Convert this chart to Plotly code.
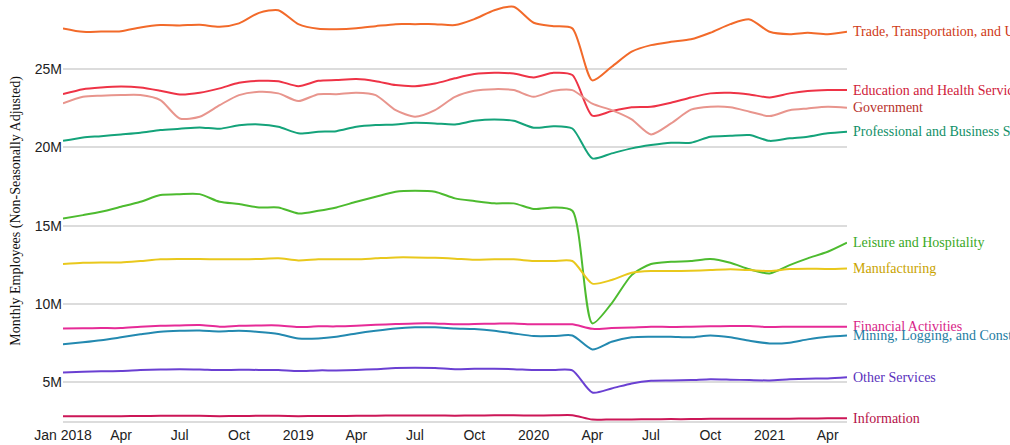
import plotly.graph_objects as go

months = ["2018-01-01","2018-02-01","2018-03-01","2018-04-01","2018-05-01","2018-06-01",
          "2018-07-01","2018-08-01","2018-09-01","2018-10-01","2018-11-01","2018-12-01",
          "2019-01-01","2019-02-01","2019-03-01","2019-04-01","2019-05-01","2019-06-01",
          "2019-07-01","2019-08-01","2019-09-01","2019-10-01","2019-11-01","2019-12-01",
          "2020-01-01","2020-02-01","2020-03-01","2020-04-01","2020-05-01","2020-06-01",
          "2020-07-01","2020-08-01","2020-09-01","2020-10-01","2020-11-01","2020-12-01",
          "2021-01-01","2021-02-01","2021-03-01","2021-04-01","2021-05-01"]

# values in millions of employees
trade = [27.59,27.37,27.39,27.41,27.65,27.80,27.78,27.82,27.69,27.91,28.58,28.75,27.86,27.56,27.54,27.60,27.73,27.86,27.86,27.86,27.80,28.18,28.75,28.97,27.95,27.73,27.59,24.27,25.14,26.10,26.52,26.73,26.89,27.31,27.86,28.16,27.37,27.22,27.31,27.22,27.37]
education = [23.39,23.71,23.82,23.88,23.82,23.61,23.37,23.48,23.76,24.12,24.24,24.22,23.90,24.24,24.29,24.35,24.22,23.97,23.90,24.07,24.40,24.67,24.75,24.71,24.46,24.75,24.61,22.02,22.31,22.55,22.58,22.84,23.18,23.44,23.48,23.37,23.18,23.44,23.59,23.65,23.65]
government = [22.80,23.22,23.29,23.33,23.33,23.01,21.84,21.95,22.69,23.33,23.54,23.44,22.95,23.39,23.39,23.48,23.33,22.37,21.95,22.37,23.22,23.61,23.71,23.65,23.22,23.61,23.65,22.78,22.37,21.78,20.82,21.52,22.40,22.58,22.55,22.27,21.99,22.37,22.48,22.58,22.53]
professional = [20.41,20.63,20.71,20.82,20.93,21.10,21.18,21.27,21.18,21.40,21.46,21.31,20.89,20.99,21.03,21.31,21.42,21.46,21.56,21.52,21.46,21.69,21.78,21.69,21.25,21.35,21.20,19.29,19.61,19.93,20.14,20.29,20.29,20.67,20.73,20.78,20.41,20.57,20.67,20.89,20.99]
leisure = [15.46,15.67,15.88,16.20,16.52,16.95,17.01,17.01,16.52,16.38,16.16,16.16,15.78,15.95,16.16,16.52,16.84,17.16,17.22,17.16,16.74,16.57,16.42,16.42,16.06,16.16,15.95,8.76,10.04,11.84,12.55,12.69,12.74,12.87,12.63,12.21,11.95,12.48,12.91,13.33,13.91]
manufacturing = [12.55,12.63,12.65,12.65,12.74,12.85,12.87,12.87,12.85,12.85,12.87,12.91,12.78,12.85,12.85,12.85,12.91,12.97,12.97,12.95,12.89,12.82,12.85,12.85,12.74,12.74,12.74,11.30,11.53,11.99,12.10,12.10,12.12,12.16,12.21,12.16,12.10,12.23,12.25,12.23,12.27]
financial = [8.44,8.45,8.46,8.46,8.55,8.61,8.63,8.65,8.55,8.61,8.63,8.63,8.53,8.57,8.57,8.61,8.67,8.72,8.76,8.76,8.70,8.72,8.74,8.76,8.70,8.70,8.70,8.41,8.46,8.50,8.55,8.53,8.55,8.57,8.59,8.59,8.53,8.55,8.55,8.55,8.55]
mining = [7.42,7.55,7.68,7.87,8.06,8.23,8.29,8.31,8.25,8.29,8.21,8.08,7.80,7.80,7.91,8.12,8.29,8.44,8.51,8.51,8.44,8.40,8.29,8.12,7.95,7.95,7.99,7.10,7.59,7.87,7.91,7.91,7.87,7.99,7.87,7.65,7.48,7.53,7.74,7.91,7.99]
other = [5.63,5.67,5.70,5.72,5.78,5.82,5.84,5.82,5.78,5.80,5.79,5.78,5.72,5.76,5.76,5.79,5.84,5.91,5.93,5.91,5.84,5.86,5.86,5.84,5.78,5.79,5.76,4.35,4.61,4.93,5.10,5.12,5.14,5.19,5.17,5.14,5.12,5.19,5.23,5.25,5.32]
information = [2.83,2.84,2.84,2.84,2.85,2.86,2.87,2.86,2.84,2.85,2.86,2.86,2.84,2.85,2.85,2.86,2.87,2.88,2.88,2.88,2.87,2.88,2.89,2.89,2.88,2.89,2.90,2.62,2.63,2.63,2.64,2.65,2.65,2.67,2.68,2.68,2.67,2.68,2.69,2.70,2.71]

series_names = ["Trade, Transportation, and Utilities", "Education and Health Services", "Government",
                "Professional and Business Services", "Leisure and Hospitality", "Manufacturing",
                "Financial Activities", "Mining, Logging, and Construction", "Other Services", "Information"]
series_values = [trade, education, government, professional, leisure, manufacturing,
                 financial, mining, other, information]
line_colors = ["#f26a2a", "#ee3346", "#e8958d", "#14a37a", "#4dbb2f", "#e9c81c",
               "#e62b97", "#2389b0", "#6a40d2", "#cc1657"]
label_colors = ["#cf3a16", "#d0213a", "#b8322c", "#119068", "#3aa81f", "#c9a300",
                "#d81e88", "#1d7ca2", "#5a32bc", "#b51249"]

tick_vals = ["2018-01-01","2018-04-01","2018-07-01","2018-10-01","2019-01-01","2019-04-01",
             "2019-07-01","2019-10-01","2020-01-01","2020-04-01","2020-07-01","2020-10-01",
             "2021-01-01","2021-04-01"]
tick_text = ["Jan 2018","Apr","Jul","Oct","2019","Apr","Jul","Oct","2020","Apr","Jul","Oct","2021","Apr"]
y_ticks = [5e6, 10e6, 15e6, 20e6, 25e6]

fig = go.Figure()
for name, vals, col in zip(series_names, series_values, line_colors):
    fig.add_trace(go.Scatter(
        x=months, y=[v * 1e6 for v in vals], mode="lines", name=name,
        line=dict(color=col, width=2, shape="spline", smoothing=0.7),
        hoverinfo="skip", showlegend=False))

for name, vals, col in zip(series_names, series_values, label_colors):
    fig.add_annotation(x=months[-1], y=vals[-1] * 1e6, xref="x", yref="y",
                       text=name, showarrow=False, xanchor="left", yanchor="middle",
                       xshift=4, font=dict(family="Liberation Serif, Times New Roman, serif",
                                           size=14, color=col))

fig.add_annotation(text="Monthly Employees (Non-Seasonally Adjusted)", xref="paper", yref="paper",
                   x=-0.061, y=0.5, xanchor="center", yanchor="middle", textangle=-90,
                   showarrow=False,
                   font=dict(family="Liberation Serif, Times New Roman, serif", size=14, color="#111"))

fig.update_layout(
    width=1010, height=445,
    margin=dict(l=63, r=163, t=0, b=24),
    paper_bgcolor="white", plot_bgcolor="white",
    font=dict(family="Liberation Sans, Arial, Helvetica, sans-serif", size=14, color="#222"),
    xaxis=dict(type="date", range=[months[0], months[-1]], tickmode="array",
               tickvals=tick_vals, ticktext=tick_text, showgrid=False, zeroline=False,
               showline=True, linecolor="#dcdcdc", linewidth=2, ticks="", ticklen=0,
               tickfont=dict(size=14, color="#222")),
    yaxis=dict(range=[2.53e6, 29.4e6], tickmode="array", tickvals=y_ticks, tickformat="~s",
               showgrid=True, gridcolor="#dcdcdc", gridwidth=2, zeroline=False,
               showline=False, ticks="", tickfont=dict(size=14, color="#222")),
)

fig.write_html("out.html", config={"displayModeBar": False},
               post_script="document.body.style.margin='0';document.body.style.overflow='hidden';")
